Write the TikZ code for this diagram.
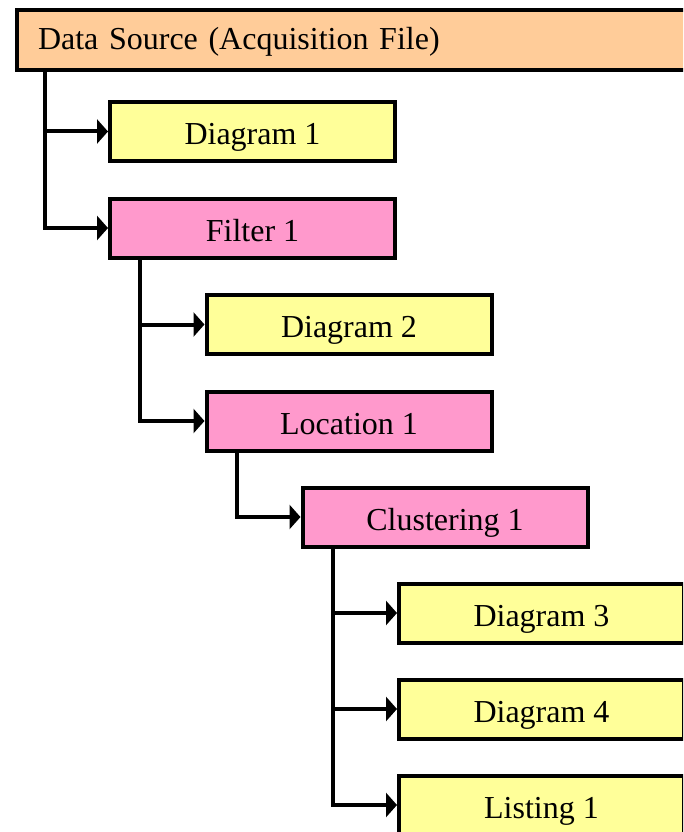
\documentclass[tikz,border=0pt]{standalone}
\usepackage{fontspec}
\setmainfont{Liberation Serif}
\usetikzlibrary{arrows.meta}
\definecolor{srcfill}{HTML}{FFCC99}
\definecolor{yelfill}{HTML}{FFFF99}
\definecolor{pinkfill}{HTML}{FF99CC}
\begin{document}
\begin{tikzpicture}[x=1pt,y=-1pt,
  box/.style={draw=black, line width=4pt, minimum width=285pt, minimum height=59pt,
    inner sep=0pt, text height=29pt, text depth=3pt, font=\fontsize{32}{38}\selectfont},
  ybox/.style={box, fill=yelfill},
  pbox/.style={box, fill=pinkfill},
  conn/.style={line width=4pt, -{Triangle[length=11pt,width=24pt]}}
]
\useasboundingbox (0,0) rectangle (683,832);
\fill[white] (0,0) rectangle (683,832);
\clip (0,0) rectangle (683,832);

\node[box, fill=srcfill, anchor=west, minimum height=60pt, text width=700pt,
  text height=25pt, text depth=5pt,
  align=left, inner xsep=21pt] (ds) at (15,40) {Data Source (Acquisition File)};

\node[ybox] (d1) at (252.5,131.5) {Diagram 1};
\node[pbox] (f1) at (252.5,228) {Filter 1};
\node[ybox] (d2) at (349,324.5) {Diagram 2};
\node[pbox] (l1) at (349,421) {Location 1};
\node[pbox] (c1) at (445,517) {Clustering 1};
\node[ybox] (d3) at (541.5,613) {Diagram 3};
\node[ybox] (d4) at (541.5,709) {Diagram 4};
\node[ybox] (li) at (541.5,805) {Listing 1};

\draw[conn] ([xshift=30pt]ds.south west) |- (d1.west);
\draw[conn] ([xshift=30pt]ds.south west) |- (f1.west);
\draw[conn] ([xshift=32pt]f1.south west) |- (d2.west);
\draw[conn] ([xshift=32pt]f1.south west) |- (l1.west);
\draw[conn] ([xshift=32pt]l1.south west) |- (c1.west);
\draw[conn] ([xshift=32pt]c1.south west) |- (d3.west);
\draw[conn] ([xshift=32pt]c1.south west) |- (d4.west);
\draw[conn] ([xshift=32pt]c1.south west) |- (li.west);
\end{tikzpicture}
\end{document}
